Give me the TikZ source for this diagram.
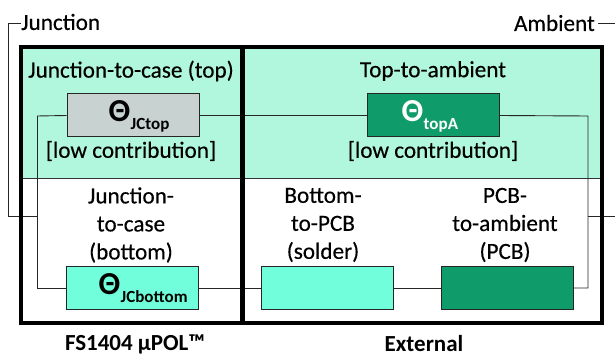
\documentclass[tikz,border=0pt]{standalone}
\usepackage{fontspec}
\setmainfont{Carlito}
\newfontfamily\semib[FakeBold=0.35]{Carlito}
\definecolor{mint}{RGB}{176,247,222}
\definecolor{greybox}{RGB}{200,210,208}
\definecolor{darkgreen}{RGB}{16,156,106}
\definecolor{aqua}{RGB}{112,255,218}
\begin{document}
\begin{tikzpicture}[x=1pt,y=-1pt,
  txt/.style={font=\semib\fontsize{23.2}{28}\selectfont, align=center, inner sep=0pt},
  ttl/.style={font=\fontsize{23}{27}\selectfont\bfseries, inner sep=0pt},
  rbox/.style={draw=black!85, line width=1pt, minimum width=132pt, minimum height=43pt, inner sep=0pt},
  wire/.style={line width=0.9pt, black!85},
  frame/.style={line width=4.5pt, line join=miter},
  sym/.style={font=\fontsize{32}{32}\selectfont\bfseries, anchor=base west, inner sep=0pt},
  sub/.style={font=\fontsize{17}{17}\selectfont\bfseries, anchor=base west, inner sep=0pt, yshift=-8pt}]
\useasboundingbox (0,0) rectangle (615,358);
% backgrounds
\fill[mint] (21,47) rectangle (602,178);
\draw[line width=0.8pt, black!80] (21,178) -- (602,178);
% wires
\coordinate (jtop) at (8,23);
\coordinate (jcor) at (8,216);
\coordinate (jx) at (37,216);
\coordinate (ltop) at (37,116);
\coordinate (lbot) at (37,288);
\coordinate (rtop) at (588,116);
\coordinate (rbot) at (588,288);
\coordinate (rx) at (588,216);
\coordinate (redge) at (616,216);
\coordinate (atop1) at (598,23);
\coordinate (atop2) at (616,23);
\node[rbox, fill=greybox] (jct) at (133,115.5) {};
\node[rbox, fill=darkgreen] (ta) at (433,115.5) {};
\node[rbox, fill=aqua] (jcb) at (132.5,288) {};
\node[rbox, fill=aqua] (sol) at (327.5,288) {};
\node[rbox, fill=darkgreen] (pcb) at (507,288) {};
\draw[wire] (ltop) -- (jct.west);
\draw[wire] (jct.east) -- (ta.west);
\draw[wire] (ta.east) -- (rtop) -- (rbot) -- (pcb.east);
\draw[wire] (ltop) -- (lbot) -- (jcb.west);
\draw[wire] (jcb.east) -- (sol.west);
\draw[wire] (sol.east) -- (pcb.west);
\draw[wire] (21,23) -- (jtop) -- (jcor) -- (jx);
\draw[wire] (rx) -- (redge);
\draw[wire] (atop1) -- (atop2);
% frames
\draw[frame] (21,47) rectangle (602,323);
\draw[frame] (242.5,47) -- (242.5,323);
% symbol labels
\node[sym] (t1) at (108.5,122) {Θ};
\node[sub] at (t1.base east) {JCtop};
\node[sym, text=white] (t2) at (401.5,122) {Θ};
\node[sub, text=white] at (t2.base east) {topA};
\node[sym] (t3) at (98.5,294) {Θ};
\node[sub] at (t3.base east) {JCbottom};
% texts
\node[txt, anchor=west] (lj) at (21,22) {Junction};
\node[txt, anchor=east] (la) at (595,23) {Ambient};
\node[txt] (l1) at (131,71) {Junction-to-case (top)};
\node[txt] (l2) at (433,71) {Top-to-ambient};
\node[txt] (l3) at (131,151) {[low contribution]};
\node[txt] (l4) at (433,151) {[low contribution]};
\node[txt] (l5) at (131,225) {Junction-\\to-case\\(bottom)};
\node[txt] (l6) at (323,225) {Bottom-\\to-PCB\\(solder)};
\node[txt] (l7) at (505,225) {PCB-\\to-ambient\\(PCB)};
\node[ttl] (l8) at (135,344) {FS1404 µPOL™};
\node[ttl] (l9) at (424,344) {External};
\end{tikzpicture}
\end{document}
